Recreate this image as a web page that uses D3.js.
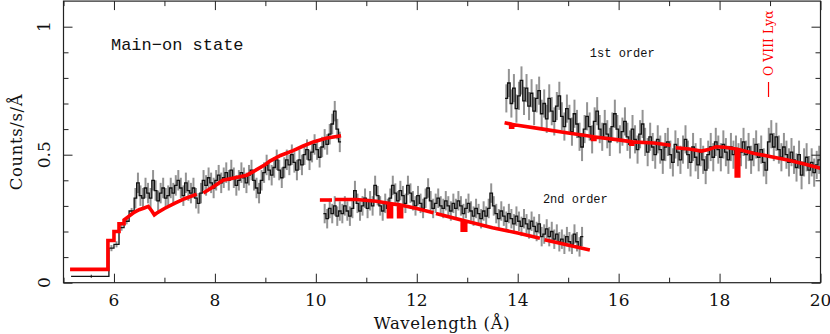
<!DOCTYPE html>
<html lang="en">
<head>
    <meta charset="UTF-8">
    <title>Main-on state spectrum</title>
    <script src="https://d3js.org/d3.v7.min.js"></script>
    <style>
        body { margin: 0; padding: 0; background: #fff; }
        svg text { fill: #111; }
        .serif { font-family: "DejaVu Serif", "Liberation Serif", serif; }
        .mono { font-family: "Liberation Mono", "DejaVu Sans Mono", monospace; }
    </style>
</head>
<body>
    <div id="viz"></div>
    <script>
        // coarse bins at the short wavelength end (edges, values)
        const coarseEdges = [5.15, 5.9, 6.0, 6.1, 6.2, 6.3, 6.4];
        const coarseVals = [0.025, 0.135, 0.15, 0.215, 0.24, 0.28];

        // segment A: 6.40 .. 10.50, 0.05 A bins
        const segAStart = 6.4;
        const segAVals = [
            0.33, 0.39, 0.34, 0.33, 0.37, 0.35, 0.33, 0.40, 0.36, 0.32,
            0.35, 0.37, 0.33, 0.34, 0.37, 0.35, 0.38, 0.40, 0.37, 0.34,
            0.39, 0.36, 0.35, 0.37, 0.33, 0.31, 0.35, 0.40, 0.38, 0.41,
            0.39, 0.37, 0.40, 0.42, 0.39, 0.41, 0.43, 0.40, 0.44, 0.41,
            0.38, 0.40, 0.43, 0.41, 0.39, 0.42, 0.44, 0.40, 0.37, 0.35,
            0.40, 0.43, 0.46, 0.44, 0.42, 0.45, 0.48, 0.44, 0.41, 0.45,
            0.48, 0.46, 0.50, 0.47, 0.44, 0.48, 0.46, 0.50, 0.52, 0.48,
            0.51, 0.54, 0.52, 0.49, 0.53, 0.56, 0.54, 0.58, 0.62, 0.67,
            0.60, 0.55
        ];

        // segment B (2nd order): 10.15 .. 15.30
        const segBStart = 10.15;
        const segBVals = [
            0.27, 0.25, 0.29, 0.27, 0.30, 0.26, 0.28, 0.27, 0.30, 0.28,
            0.26, 0.29, 0.36, 0.31, 0.28, 0.30, 0.33, 0.29, 0.32, 0.30,
            0.38, 0.34, 0.30, 0.28, 0.31, 0.29, 0.33, 0.38, 0.35, 0.32,
            0.36, 0.34, 0.31, 0.38, 0.35, 0.32, 0.30, 0.34, 0.31, 0.29,
            0.33, 0.37, 0.32, 0.29, 0.31, 0.33, 0.30, 0.29, 0.32, 0.30,
            0.28, 0.31, 0.29, 0.32, 0.30, 0.27, 0.29, 0.31, 0.28, 0.26,
            0.29, 0.27, 0.25, 0.28, 0.26, 0.29, 0.35, 0.30, 0.27, 0.25,
            0.28, 0.26, 0.24, 0.27, 0.25, 0.23, 0.26, 0.24, 0.22, 0.25,
            0.23, 0.21, 0.24, 0.22, 0.20, 0.23, 0.18, 0.19, 0.21, 0.18,
            0.20, 0.17, 0.19, 0.16, 0.17, 0.15, 0.18, 0.16, 0.15, 0.19,
            0.16, 0.14, 0.18
        ];

        // segment C (1st order): 13.75 .. 20.00
        const segCStart = 13.75;
        const segCVals = [
            0.72, 0.78, 0.70, 0.76, 0.68, 0.73, 0.79, 0.71, 0.76, 0.69,
            0.74, 0.67, 0.72, 0.75, 0.66, 0.70, 0.64, 0.72, 0.67, 0.63,
            0.69, 0.73, 0.65, 0.61, 0.68, 0.64, 0.59, 0.66, 0.62, 0.57,
            0.53, 0.60, 0.65, 0.61, 0.56, 0.63, 0.67, 0.60, 0.57, 0.62,
            0.58, 0.55, 0.61, 0.66, 0.60, 0.56, 0.59, 0.63, 0.57, 0.54,
            0.60, 0.56, 0.52, 0.58, 0.62, 0.55, 0.51, 0.57, 0.53, 0.50,
            0.56, 0.52, 0.48, 0.53, 0.55, 0.50, 0.47, 0.54, 0.51, 0.48,
            0.52, 0.56, 0.50, 0.47, 0.53, 0.49, 0.46, 0.51, 0.48, 0.44,
            0.50, 0.53, 0.49, 0.55, 0.52, 0.49, 0.54, 0.51, 0.48, 0.53,
            0.50, 0.52, 0.49, 0.51, 0.55, 0.50, 0.53, 0.48, 0.51, 0.54,
            0.49, 0.52, 0.47, 0.44, 0.55, 0.58, 0.53, 0.57, 0.52, 0.49,
            0.53, 0.50, 0.47, 0.51, 0.48, 0.45, 0.50, 0.42, 0.47, 0.49,
            0.44, 0.47, 0.43, 0.46, 0.48
        ];

        // model pieces (vertex wavelengths / values), gaps between pieces
        const modelA1X = [5.13, 5.88, 5.88, 6.0, 6.0, 6.1, 6.1, 6.2, 6.2, 6.3, 6.4, 6.5, 6.6, 6.68, 6.75, 6.8, 6.85, 7.0, 7.2, 7.4, 7.64];
        const modelA1Y = [0.052, 0.052, 0.165, 0.165, 0.20, 0.20, 0.23, 0.23, 0.245, 0.26, 0.275, 0.285, 0.292, 0.298, 0.28, 0.265, 0.272, 0.29, 0.31, 0.328, 0.346];
        const modelA2X = [7.77, 7.97, 8.16, 8.4, 8.63, 8.76, 9.0, 9.09, 9.3, 9.55, 9.75, 9.95, 10.2, 10.5];
        const modelA2Y = [0.35, 0.375, 0.40, 0.41, 0.42, 0.434, 0.462, 0.475, 0.497, 0.516, 0.534, 0.55, 0.564, 0.574];
        const modelB1X = [10.08, 10.32];
        const modelB1Y = [0.323, 0.323];
        const modelB2X = [10.38, 10.8, 11.2, 11.44, 11.44, 11.5, 11.5, 11.64, 11.64, 11.7, 11.7, 12.0, 12.33];
        const modelB2Y = [0.325, 0.325, 0.318, 0.31, 0.258, 0.258, 0.308, 0.305, 0.258, 0.258, 0.303, 0.29, 0.273];
        const modelB3X = [12.38, 12.9, 12.9, 12.97, 12.97, 13.5, 14.0, 14.44];
        const modelB3Y = [0.27, 0.244, 0.205, 0.205, 0.241, 0.215, 0.194, 0.174];
        const modelB4X = [14.53, 15.43];
        const modelB4Y = [0.168, 0.128];
        const modelC1X = [13.74, 13.86, 13.86, 13.9, 13.9, 14.5, 15.0, 15.48, 15.48, 15.53, 15.53, 16.0, 16.24, 16.24, 16.28, 16.28, 16.7, 17.03];
        const modelC1Y = [0.625, 0.62, 0.607, 0.607, 0.618, 0.60, 0.585, 0.571, 0.56, 0.56, 0.569, 0.558, 0.551, 0.541, 0.541, 0.55, 0.546, 0.537];
        const modelC2X = [17.13, 17.4, 17.64, 17.78, 17.93, 18.1, 18.33, 18.33, 18.38, 18.38, 18.69, 19.0, 19.35, 19.7, 20.0];
        const modelC2Y = [0.527, 0.522, 0.514, 0.52, 0.531, 0.529, 0.522, 0.417, 0.417, 0.52, 0.505, 0.493, 0.479, 0.463, 0.447];

        const binW = 0.05;
        const errA = 0.04, errB = 0.038, errC = 0.055;

        const width = 830, height = 334;
        const x = d3.scaleLinear().domain([5, 20]).range([63.5, 820.5]);
        const y = d3.scaleLinear().domain([0, 1.1]).range([282.7, 1.1]);

        const svg = d3.select("#viz").append("svg")
            .attr("width", width)
            .attr("height", height);

        // build bins as {lo, hi, v}
        function uniformBins(start, vals) {
            return vals.map((v, i) => ({lo: start + i * binW, hi: start + (i + 1) * binW, v: v}));
        }
        const coarseBins = coarseVals.map((v, i) => ({lo: coarseEdges[i], hi: coarseEdges[i + 1], v: v}));
        const binsA = uniformBins(segAStart, segAVals);
        const binsB = uniformBins(segBStart, segBVals);
        const binsC = uniformBins(segCStart, segCVals);

        const dataG = svg.append("g");

        function drawErrors(bins, err) {
            dataG.append("g")
                .selectAll("line")
                .data(bins)
                .enter()
                .append("line")
                .attr("x1", d => x((d.lo + d.hi) / 2))
                .attr("x2", d => x((d.lo + d.hi) / 2))
                .attr("y1", d => y(d.v - err))
                .attr("y2", d => y(d.v + err))
                .attr("stroke", "#939393")
                .attr("stroke-width", 2);
        }

        function drawHist(bins) {
            const pts = bins.map(d => [d.lo, d.v]);
            pts.push([bins[bins.length - 1].hi, bins[bins.length - 1].v]);
            const line = d3.line()
                .x(d => x(d[0]))
                .y(d => y(d[1]))
                .curve(d3.curveStepAfter);
            dataG.append("path")
                .attr("d", line(pts))
                .attr("fill", "none")
                .attr("stroke", "#111")
                .attr("stroke-width", 1.3);
        }

        drawErrors(coarseBins.slice(1), 0.012);
        drawErrors(binsA, errA);
        drawErrors(binsB, errB);
        drawErrors(binsC, errC);
        drawHist(coarseBins.concat(binsA));
        drawHist(binsB);
        drawHist(binsC);

        // small error tick on the first wide bin
        dataG.append("line")
            .attr("x1", x(5.55)).attr("x2", x(5.55))
            .attr("y1", y(coarseVals[0] - 0.006)).attr("y2", y(coarseVals[0] + 0.006))
            .attr("stroke", "#111");

        // model
        const modelLine = d3.line().x(d => x(d[0])).y(d => y(d[1]));
        const pieces = [
            [modelA1X, modelA1Y], [modelA2X, modelA2Y],
            [modelB1X, modelB1Y], [modelB2X, modelB2Y], [modelB3X, modelB3Y], [modelB4X, modelB4Y],
            [modelC1X, modelC1Y], [modelC2X, modelC2Y]
        ];
        pieces.forEach(p => {
            svg.append("path")
                .attr("d", modelLine(p[0].map((v, i) => [v, p[1][i]])))
                .attr("fill", "none")
                .attr("stroke", "#ff0000")
                .attr("stroke-width", 3.6)
                .attr("stroke-linejoin", "miter");
        });

        // frame and ticks (inward on all sides)
        const x0 = x.range()[0], x1 = x.range()[1], y0 = y.range()[0], y1 = y.range()[1];
        const xMajor = d3.range(6, 20.01, 2), xMinor = d3.range(5, 20.01, 1).filter(v => v % 2 !== 0);
        const yMajor = [0, 0.5, 1], yMinor = d3.range(0.1, 1.1, 0.1).filter(v => Math.abs(v - 0.5) > 1e-6 && Math.abs(v - 1) > 1e-6);

        const axisG = svg.append("g").attr("stroke", "#222").attr("stroke-width", 1);
        axisG.append("g").attr("transform", `translate(0,${y0})`)
            .call(d3.axisBottom(x).tickValues(xMajor).tickSize(-9).tickFormat(""));
        axisG.append("g").attr("transform", `translate(0,${y0})`)
            .call(d3.axisBottom(x).tickValues(xMinor).tickSize(-5).tickFormat(""));
        axisG.append("g").attr("transform", `translate(0,${y1})`)
            .call(d3.axisTop(x).tickValues(xMajor).tickSize(-9).tickFormat(""));
        axisG.append("g").attr("transform", `translate(0,${y1})`)
            .call(d3.axisTop(x).tickValues(xMinor).tickSize(-5).tickFormat(""));
        axisG.append("g").attr("transform", `translate(${x0},0)`)
            .call(d3.axisLeft(y).tickValues(yMajor).tickSize(-9).tickFormat(""));
        axisG.append("g").attr("transform", `translate(${x0},0)`)
            .call(d3.axisLeft(y).tickValues(yMinor).tickSize(-5).tickFormat(""));
        axisG.append("g").attr("transform", `translate(${x1},0)`)
            .call(d3.axisRight(y).tickValues(yMajor).tickSize(-9).tickFormat(""));
        axisG.append("g").attr("transform", `translate(${x1},0)`)
            .call(d3.axisRight(y).tickValues(yMinor).tickSize(-5).tickFormat(""));
        axisG.selectAll(".domain").remove();
        axisG.selectAll(".tick line").attr("stroke", "#222");

        svg.append("rect")
            .attr("x", x0).attr("y", y1)
            .attr("width", x1 - x0).attr("height", y0 - y1)
            .attr("fill", "none").attr("stroke", "#222").attr("stroke-width", 1.2);

        // tick labels
        svg.append("g").selectAll("text")
            .data(xMajor)
            .enter()
            .append("text")
            .attr("class", "serif")
            .attr("x", d => x(d))
            .attr("y", 306)
            .attr("text-anchor", "middle")
            .attr("font-size", 17)
            .text(d => d);

        svg.append("g").selectAll("text")
            .data(yMajor)
            .enter()
            .append("text")
            .attr("class", "serif")
            .attr("transform", d => `translate(50,${y(d)}) rotate(-90)`)
            .attr("text-anchor", "middle")
            .attr("font-size", 17)
            .text(d => d);

        // axis titles
        svg.append("text")
            .attr("class", "serif")
            .attr("x", (x0 + x1) / 2)
            .attr("y", 329)
            .attr("text-anchor", "middle")
            .attr("font-size", 16.5)
            .attr("letter-spacing", 0.6)
            .text("Wavelength (Å)");

        svg.append("text")
            .attr("class", "serif")
            .attr("transform", `translate(22,142) rotate(-90)`)
            .attr("text-anchor", "middle")
            .attr("font-size", 16.5)
            .attr("letter-spacing", 0.6)
            .text("Counts/s/Å");

        // annotations
        svg.append("text")
            .attr("class", "mono")
            .attr("x", x(5.94))
            .attr("y", 50)
            .attr("font-size", 17)
            .text("Main\u2212on state");

        svg.append("text")
            .attr("class", "mono")
            .attr("x", x(15.43))
            .attr("y", 57)
            .attr("font-size", 12)
            .text("1st order");

        svg.append("text")
            .attr("class", "mono")
            .attr("x", x(14.5))
            .attr("y", 203)
            .attr("font-size", 12)
            .text("2nd order");

        // O VIII Ly alpha marker
        svg.append("line")
            .attr("x1", x(18.97)).attr("x2", x(18.97))
            .attr("y1", 82).attr("y2", 97)
            .attr("stroke", "#ff0000").attr("stroke-width", 1.2);
        svg.append("text")
            .attr("class", "serif")
            .attr("transform", `translate(${x(18.97) + 4.5},76) rotate(-90)`)
            .attr("font-size", 12.5)
            .style("fill", "#ff0000")
            .text("O VIII Lyα");
    </script>
</body>
</html>
